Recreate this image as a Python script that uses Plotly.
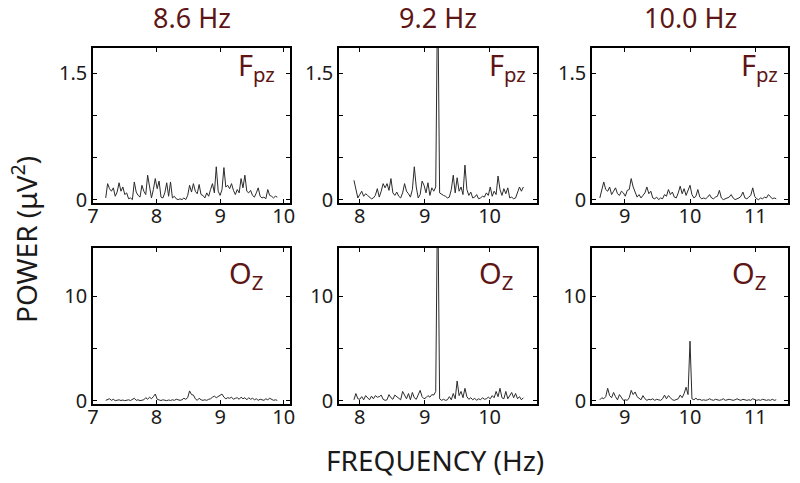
import plotly.graph_objects as go

# ---------------- data ----------------
col_titles = ["8.6 Hz", "9.2 Hz", "10.0 Hz"]

freq_c1 = [7.20,7.23,7.26,7.29,7.32,7.35,7.38,7.41,7.44,7.47,
           7.50,7.53,7.56,7.59,7.62,7.65,7.68,7.71,7.74,7.77,
           7.80,7.83,7.86,7.89,7.92,7.95,7.98,8.01,8.04,8.07,
           8.10,8.13,8.16,8.19,8.22,8.25,8.28,8.31,8.34,8.37,
           8.40,8.43,8.46,8.49,8.52,8.55,8.58,8.61,8.64,8.67,
           8.70,8.73,8.76,8.79,8.82,8.85,8.88,8.91,8.94,8.97,
           9.00,9.03,9.06,9.09,9.12,9.15,9.18,9.21,9.24,9.27,
           9.30,9.33,9.36,9.39,9.42,9.45,9.48,9.51,9.54,9.57,
           9.60,9.63,9.66,9.69,9.72,9.75,9.78,9.81,9.84,9.87,
           9.90]

freq_c2 = [7.91,7.94,7.97,8.00,8.03,8.06,8.09,8.12,8.15,8.18,
           8.21,8.24,8.27,8.30,8.33,8.36,8.39,8.42,8.45,8.48,
           8.51,8.54,8.57,8.60,8.63,8.66,8.69,8.72,8.75,8.78,
           8.81,8.84,8.87,8.90,8.93,8.96,8.99,9.02,9.05,9.08,
           9.11,9.14,9.17,9.20,9.23,9.26,9.29,9.32,9.35,9.38,
           9.41,9.44,9.47,9.50,9.53,9.56,9.59,9.62,9.65,9.68,
           9.71,9.74,9.77,9.80,9.83,9.86,9.89,9.92,9.95,9.98,
           10.01,10.04,10.07,10.10,10.13,10.16,10.19,10.22,10.25,10.28,
           10.31,10.34,10.37,10.40,10.43,10.46,10.49,10.52]

freq_c3 = [8.62,8.65,8.68,8.71,8.74,8.77,8.80,8.83,8.86,8.89,
           8.92,8.95,8.98,9.01,9.04,9.07,9.10,9.13,9.16,9.19,
           9.22,9.25,9.28,9.31,9.34,9.37,9.40,9.43,9.46,9.49,
           9.52,9.55,9.58,9.61,9.64,9.67,9.70,9.73,9.76,9.79,
           9.82,9.85,9.88,9.91,9.94,9.97,10.00,10.03,10.06,10.09,
           10.12,10.15,10.18,10.21,10.24,10.27,10.30,10.33,10.36,10.39,
           10.42,10.45,10.48,10.51,10.54,10.57,10.60,10.63,10.66,10.69,
           10.72,10.75,10.78,10.81,10.84,10.87,10.90,10.93,10.96,10.99,
           11.02,11.05,11.08,11.11,11.14,11.17,11.20,11.23,11.26,11.29,
           11.32]

fpz_c1 = [0.02,0.19,0.13,0.10,0.14,0.04,0.09,0.20,0.10,0.15,
          0.06,0.08,0.01,0.02,0.00,0.21,0.09,0.05,0.03,0.17,
          0.10,0.06,0.29,0.14,0.02,0.12,0.25,0.13,0.22,0.03,
          0.02,0.08,0.20,0.04,0.21,0.02,0.04,0.01,0.00,0.01,
          0.00,0.02,0.00,0.05,0.17,0.09,0.19,0.10,0.07,0.18,
          0.06,0.05,0.02,0.08,0.04,0.12,0.19,0.08,0.39,0.10,
          0.05,0.12,0.38,0.15,0.17,0.13,0.19,0.11,0.06,0.12,
          0.08,0.25,0.14,0.29,0.10,0.08,0.11,0.05,0.03,0.08,
          0.14,0.04,0.02,0.03,0.01,0.12,0.05,0.04,0.02,0.04,
          0.03]

oz_c1 = [0.05,0.10,0.20,0.05,0.15,0.02,0.05,0.10,0.03,0.08,
         0.02,0.05,0.10,0.03,0.15,0.25,0.05,0.10,0.02,0.05,
         0.10,0.30,0.15,0.35,0.20,0.40,0.65,0.15,0.05,0.03,
         0.10,0.05,0.02,0.08,0.04,0.10,0.05,0.15,0.08,0.05,
         0.10,0.25,0.15,0.30,0.95,0.60,0.55,0.20,0.05,0.25,
         0.10,0.05,0.10,0.05,0.15,0.20,0.35,0.45,0.30,0.40,
         0.50,0.65,0.35,0.20,0.30,0.25,0.35,0.15,0.25,0.30,
         0.15,0.35,0.20,0.30,0.10,0.30,0.15,0.25,0.10,0.20,
         0.05,0.15,0.10,0.05,0.20,0.10,0.25,0.15,0.05,0.10,
         0.05]

fpz_c2 = [0.23,0.12,0.02,0.06,0.10,0.04,0.07,0.05,0.03,0.01,
          0.02,0.05,0.13,0.03,0.10,0.19,0.14,0.19,0.11,0.25,
          0.08,0.05,0.09,0.04,0.02,0.08,0.19,0.10,0.07,0.03,
          0.12,0.39,0.15,0.02,0.06,0.22,0.17,0.08,0.20,0.05,
          0.14,0.10,0.15,2.60,0.08,0.06,0.05,0.04,0.02,0.03,
          0.12,0.29,0.08,0.26,0.10,0.15,0.06,0.41,0.12,0.05,
          0.09,0.02,0.03,0.06,0.01,0.02,0.04,0.03,0.08,0.05,
          0.15,0.04,0.10,0.06,0.28,0.12,0.05,0.13,0.07,0.14,
          0.02,0.03,0.01,0.02,0.08,0.15,0.10,0.15]

oz_c2 = [0.10,0.70,0.20,0.15,0.40,0.10,0.50,0.30,0.10,0.45,
         0.20,0.50,0.35,0.40,0.55,0.15,0.05,0.10,0.60,0.30,
         0.15,0.55,0.40,0.30,0.10,0.90,0.50,0.20,0.70,0.10,
         0.80,0.30,0.15,0.60,1.00,0.40,0.20,0.30,0.50,0.35,
         0.60,0.55,0.90,21.0,0.20,0.05,0.15,0.05,0.10,0.40,
         0.10,0.70,0.20,1.90,0.50,0.90,0.30,1.20,0.40,0.15,
         0.30,0.10,0.25,0.05,0.20,0.10,0.30,0.15,0.20,0.35,
         0.20,0.50,0.30,0.90,0.40,1.20,0.30,0.20,0.90,0.20,
         0.50,0.80,0.30,0.70,0.20,0.40,0.10,0.30]

fpz_c3 = [0.02,0.10,0.21,0.12,0.10,0.15,0.06,0.10,0.14,0.07,
          0.05,0.10,0.08,0.04,0.11,0.12,0.25,0.15,0.08,0.03,
          0.06,0.02,0.05,0.08,0.15,0.07,0.10,0.02,0.01,0.03,
          0.00,0.02,0.01,0.06,0.04,0.12,0.06,0.09,0.03,0.02,
          0.08,0.16,0.07,0.13,0.05,0.10,0.17,0.06,0.02,0.04,
          0.12,0.03,0.01,0.02,0.01,0.03,0.06,0.02,0.01,0.03,
          0.04,0.11,0.02,0.00,0.01,0.02,0.03,0.06,0.02,0.00,
          0.01,0.02,0.04,0.09,0.02,0.01,0.03,0.05,0.14,0.04,
          0.01,0.00,0.02,0.01,0.03,0.02,0.06,0.03,0.01,0.02,
          0.01]

oz_c3 = [0.10,0.30,0.20,0.40,1.20,0.50,0.30,0.80,0.40,0.10,
         0.60,0.30,0.05,0.10,0.05,0.30,1.00,0.60,0.85,0.40,
         0.20,0.10,0.50,0.20,0.05,0.15,0.10,0.20,0.05,0.15,
         0.10,0.05,0.20,0.55,0.20,0.50,0.30,0.10,0.05,0.10,
         0.20,0.55,0.30,0.70,1.30,0.60,5.70,0.20,0.10,0.25,
         0.10,0.15,0.05,0.10,0.05,0.10,0.20,0.10,0.05,0.15,
         0.10,0.05,0.10,0.20,0.05,0.10,0.15,0.10,0.05,0.10,
         0.20,0.10,0.05,0.15,0.10,0.05,0.10,0.05,0.20,0.10,
         0.05,0.10,0.05,0.15,0.10,0.05,0.10,0.05,0.15,0.05,
         0.10]

x_ranges = [[7.0, 10.1], [7.68, 10.73], [8.5, 11.5]]
x_ticks = [[7, 8, 9, 10], [8, 9, 10], [9, 10, 11]]
fpz_yticks = [0, 0.5, 1.0, 1.5]
fpz_yticktext = ["0", "", "", "1.5"]
oz_yticks = [0, 5, 10]
oz_yticktext = ["0", "", "10"]
fpz_yrange = [-0.04, 1.8]
oz_yrange = [-0.3, 14.6]

freqs = [freq_c1, freq_c2, freq_c3]
fpz = [fpz_c1, fpz_c2, fpz_c3]
oz = [oz_c1, oz_c2, oz_c3]

# ---------------- layout geometry ----------------
W, H = 800, 483
col_px = [(93, 290), (339, 537), (592, 788)]
row_px = [(48, 203), (248, 404)]
fpz_x = [0.935, 0.955, 0.96]
oz_x = [0.875, 0.89, 0.90]
dark_red = "#5e1515"
FONT = "Noto Sans"

fig = go.Figure()
layout = dict(
    width=W, height=H,
    margin=dict(l=0, r=0, t=0, b=0, autoexpand=False),
    paper_bgcolor="white", plot_bgcolor="white",
    showlegend=False,
    font=dict(family=FONT, size=20, color="#1a1a1a"),
)

annotations = []
for r in range(2):
    for c in range(3):
        k = r * 3 + c + 1
        xs = "" if k == 1 else str(k)
        ydata = fpz[c] if r == 0 else oz[c]
        fig.add_trace(go.Scatter(
            x=freqs[c], y=ydata, mode="lines",
            line=dict(color="#2b2b2b", width=1),
            xaxis="x" + xs, yaxis="y" + xs, hoverinfo="skip"))
        x0, x1 = col_px[c]
        y0, y1 = row_px[r]
        ax_common = dict(
            showline=True, linecolor="black", linewidth=1.6, mirror="ticks",
            ticks="inside", ticklen=4, tickwidth=1, tickcolor="black",
            showgrid=False, zeroline=False, fixedrange=True,
            tickfont=dict(family=FONT, size=20, color="#1a1a1a"),
        )
        layout["xaxis" + xs] = dict(
            ax_common, domain=[x0 / W, x1 / W], range=x_ranges[c],
            tickvals=x_ticks[c], anchor="y" + xs, ticklabelstandoff=-6)
        layout["yaxis" + xs] = dict(
            ax_common, domain=[1 - y1 / H, 1 - y0 / H],
            range=fpz_yrange if r == 0 else oz_yrange,
            tickvals=fpz_yticks if r == 0 else oz_yticks,
            ticktext=fpz_yticktext if r == 0 else oz_yticktext,
            anchor="x" + xs)
        if r == 0:
            annotations.append(dict(
                text="F<sub>pz</sub>", xref="x" + xs + " domain", yref="y" + xs + " domain",
                x=fpz_x[c], y=1.03, xanchor="right", yanchor="top", showarrow=False,
                font=dict(family=FONT, size=29, color=dark_red)))
        else:
            annotations.append(dict(
                text="O<sub>Z</sub>", xref="x" + xs + " domain", yref="y" + xs + " domain",
                x=oz_x[c], y=0.98, xanchor="right", yanchor="top", showarrow=False,
                font=dict(family=FONT, size=29, color=dark_red)))

for c in range(3):
    x0, x1 = col_px[c]
    annotations.append(dict(
        text=col_titles[c], xref="paper", yref="paper",
        x=(x0 + x1) / 2 / W, y=1 - 18 / H, xanchor="center", yanchor="middle",
        showarrow=False, font=dict(family=FONT, size=27, color=dark_red)))

annotations.append(dict(
    text="POWER (\u03bcV<sup>2</sup>)", xref="paper", yref="paper",
    x=24 / W, y=1 - 240 / H, xanchor="center", yanchor="middle", textangle=-90,
    showarrow=False, font=dict(family=FONT, size=28, color="#1a1a1a")))
annotations.append(dict(
    text="FREQUENCY (Hz)", xref="paper", yref="paper",
    x=435 / W, y=1 - 460 / H, xanchor="center", yanchor="middle",
    showarrow=False, font=dict(family=FONT, size=28, color="#1a1a1a")))

layout["annotations"] = annotations
fig.update_layout(**layout)
fig.write_html("out.html", config={"displayModeBar": False},
               post_script="document.body.style.margin='0';")
